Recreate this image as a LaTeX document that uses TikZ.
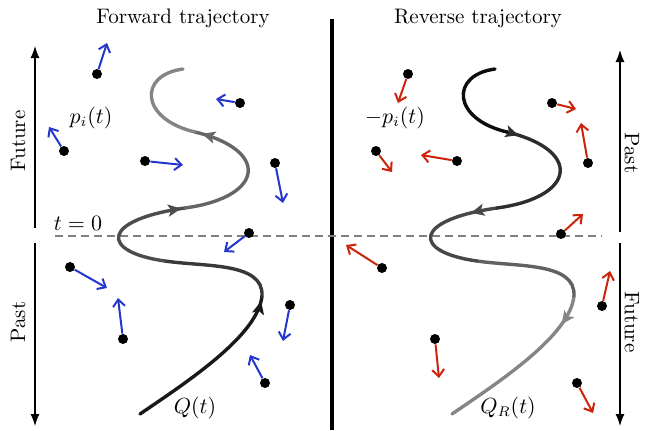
\documentclass[tikz,border=0pt]{standalone}
\usetikzlibrary{arrows.meta,decorations.markings}
\definecolor{momblue}{RGB}{35,55,205}
\definecolor{momred}{RGB}{205,35,10}
\tikzset{
  dot/.style={circle,fill=black,inner sep=0pt,minimum size=5pt},
  fwdmom/.style={momblue,line width=1pt,-{Straight Barb[length=3.5pt,width=6pt]}},
  revmom/.style={momred,line width=1pt,-{Straight Barb[length=3.5pt,width=6pt]}},
  timeaxis/.style={line width=0.6pt,-{Latex[length=6pt,width=4.5pt]}},
  traj/.style={line width=1.7pt,line cap=round},
  fwdtip/.style={postaction={decorate},decoration={markings,
    mark=at position #1 with {\arrow{Stealth[length=6.5pt,width=6pt,inset=1.5pt]}}}},
  revtip/.style={postaction={decorate},decoration={markings,
    mark=at position #1 with {\arrowreversed{Stealth[length=6.5pt,width=6pt,inset=1.5pt]}}}}
}
\begin{document}
\begin{tikzpicture}[x=0.5pt,y=-0.5pt,every node/.style={font=\fontsize{10.5}{12}\selectfont}]
                \useasboundingbox (0,0) rectangle (650,430);
                % titles and divider
                \node (ftitle) at (183,18) {Forward trajectory};
                \node (rtitle) at (478,18) {Reverse trajectory};
                \coordinate (divtop) at (332,19);
                \coordinate (divbot) at (332,430);
                \draw[line width=2pt] (divtop) -- (divbot);
                % time axes
                \coordinate (lup0) at (35,228);  \coordinate (lup1) at (35,46);
                \coordinate (ldn0) at (35,243);  \coordinate (ldn1) at (35,426);
                \coordinate (rup0) at (620,232); \coordinate (rup1) at (620,50);
                \coordinate (rdn0) at (620,243); \coordinate (rdn1) at (620,426);
                \draw[timeaxis] (lup0) -- (lup1);
                \draw[timeaxis] (ldn0) -- (ldn1);
                \draw[timeaxis] (rup0) -- (rup1);
                \draw[timeaxis] (rdn0) -- (rdn1);
                \node[rotate=90] (lfuture) at (18,141) {Future};
                \node[rotate=90] (lpast) at (18,322) {Past};
                \node[rotate=-90] (rpast) at (632,153) {Past};
                \node[rotate=-90] (rfuture) at (632,322) {Future};
                % t = 0
                \coordinate (zl) at (55,236);
                \coordinate (zr) at (602,236);
                \draw[gray,line width=0.6pt,dash pattern=on 4pt off 2.5pt] (zl) -- (zr);
                \node (tzero) at (78,223) {$t=0$};
                % forward trajectory
                \draw[traj,black!90,fwdtip=0.97] (140,414) .. controls (190,380) and (258,335) .. (262,296);
                \draw[traj,black!78] (262,296) .. controls (264,262) and (205,267) .. (165,261);
                \draw[traj,black!70,fwdtip=0.97] (165,261) .. controls (100,252) and (100,220) .. (185,208);
                \draw[traj,black!60,fwdtip=0.95] (185,208) .. controls (265,197) and (270,150) .. (195,132);
                \draw[traj,black!48] (195,132) .. controls (140,119) and (138,75) .. (183,69);
                % reverse trajectory
                \begin{scope}[xshift=156pt]
                \draw[traj,black!48,revtip=0.82] (140,414) .. controls (190,380) and (258,335) .. (262,296);
                \draw[traj,black!62] (262,296) .. controls (264,262) and (205,267) .. (165,261);
                \draw[traj,black!72,revtip=0.8] (165,261) .. controls (100,252) and (100,220) .. (185,208);
                \draw[traj,black!82,revtip=0.92] (185,208) .. controls (265,197) and (270,150) .. (195,132);
                \draw[traj,black!95] (195,132) .. controls (140,119) and (138,75) .. (183,69);
                \end{scope}
                % momenta
                \foreach \i/\x/\y/\u/\v in {1/97/74/107/43, 2/64/151/49/127, 3/145/161/183/165,
                    4/240/103/216/99, 5/275/163/283/203, 6/249/233/224/252, 7/70/267/107/288,
                    8/123/339/118/298, 9/290/305/283/341, 10/265/383/250/355} {
                    \node[dot] (f\i) at (\x,\y) {};
                    \coordinate (fp\i) at (\u,\v);
                    \draw[fwdmom] (f\i) -- (fp\i);
                }
                \foreach \i/\x/\y/\u/\v in {1/408/74/398/103, 2/376/151/392/172, 3/457/161/421/155,
                    4/552/103/576/109, 5/588/163/581/123, 6/561/234/583/214, 7/382/268/346/245,
                    8/435/339/439/378, 9/602/306/610/271, 10/577/383/593/413} {
                    \node[dot] (r\i) at (\x,\y) {};
                    \coordinate (rp\i) at (\u,\v);
                    \draw[revmom] (r\i) -- (rp\i);
                }
                % labels
                \node (plab) at (91,118) {$p_i(t)$};
                \node (mplab) at (395,118) {$-p_i(t)$};
                \node (qlab) at (195,408) {$Q(t)$};
                \node (qrlab) at (508,408) {$Q_R(t)$};
            \end{tikzpicture}
\end{document}
